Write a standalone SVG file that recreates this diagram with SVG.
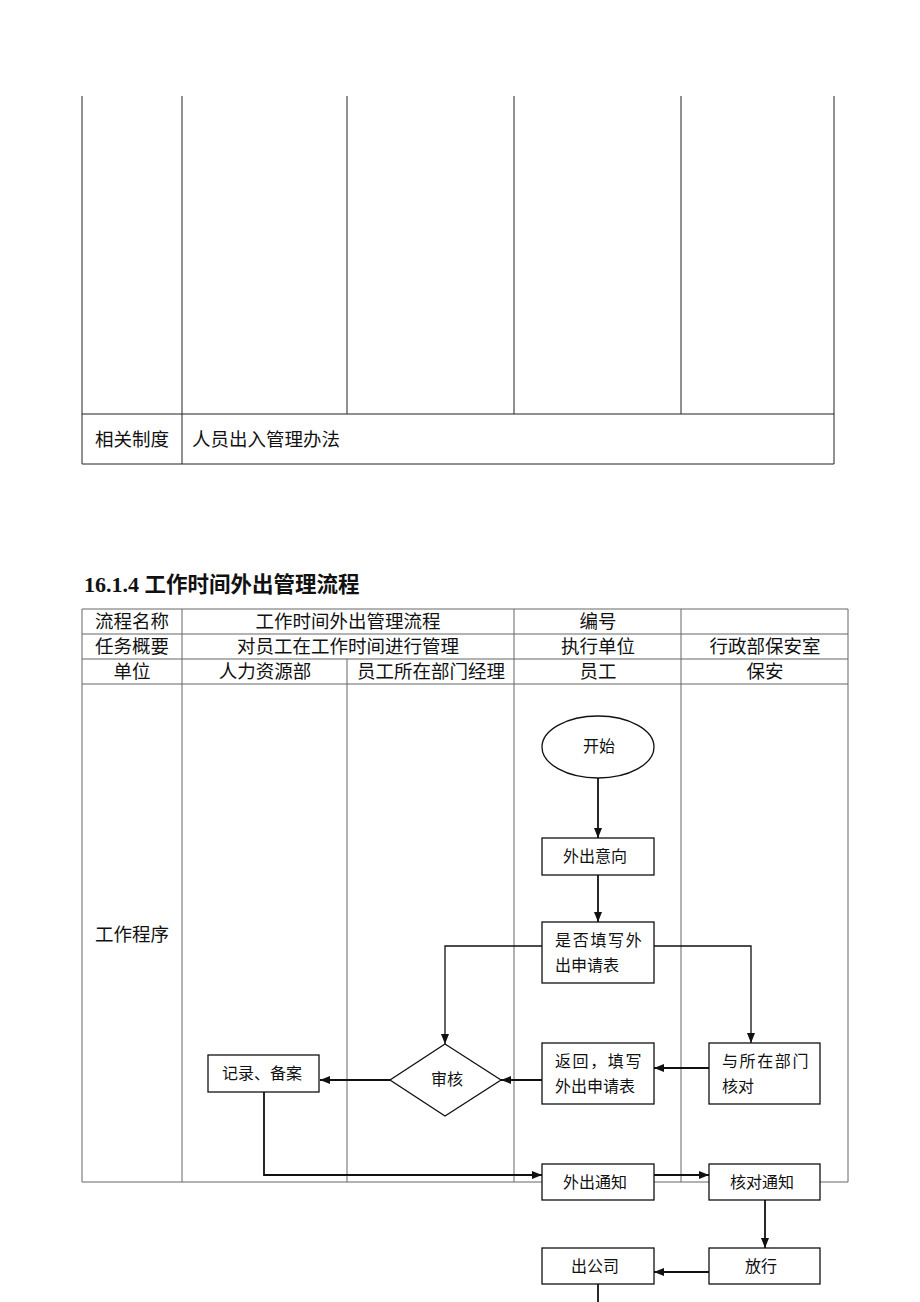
<svg xmlns="http://www.w3.org/2000/svg" width="920" height="1302" viewBox="0 0 920 1302">
<style>
.t{font-family:"Liberation Serif","Noto Sans CJK SC",serif;fill:#111}
.c{font-size:18.5px;text-anchor:middle}
.f{font-size:16px}
.fc{font-size:16px;text-anchor:middle}
.tb1{stroke:#222;stroke-width:1;fill:none}
.tb2{stroke:#666;stroke-width:1;fill:none}
.n{fill:#fff;stroke:#111;stroke-width:1.3}
.e{stroke:#111;stroke-width:1.8;fill:none}
.e1{stroke:#111;stroke-width:1.3;fill:none}
</style>
<defs>
<marker id="ah" viewBox="0 0 10 10" refX="10" refY="5" markerWidth="10" markerHeight="10" markerUnits="userSpaceOnUse" orient="auto">
<path d="M0,1 L10,5 L0,9 Z" fill="#111"/>
</marker>
</defs>
<rect width="920" height="1302" fill="#fff"/>

<g id="table1">
<path class="tb1" d="M82,96 V464 M182,96 V464 M347,96 V414 M514,96 V414 M681,96 V414 M834,96 V464 M82,414 H834 M82,464 H834"/>
<text class="t c" x="132" y="446">相关制度</text>
<text class="t" x="192" y="446" font-size="18.5">人员出入管理办法</text>
</g>

<text class="t" x="84" y="592" font-weight="bold"><tspan font-size="22">16.1.4 </tspan><tspan font-size="21.5">工作时间外出管理流程</tspan></text>

<g id="table2">
<path class="tb2" d="M82,609 H848 M82,634 H848 M82,659 H848 M82,684 H848 M82,1182 H848 M82,609 V1182 M848,609 V1182 M182,609 V1182 M347,659 V1182 M514,609 V1182 M681,609 V1182"/>
<text class="t c" x="132" y="628">流程名称</text>
<text class="t c" x="348" y="628">工作时间外出管理流程</text>
<text class="t c" x="598" y="628">编号</text>
<text class="t c" x="132" y="653">任务概要</text>
<text class="t c" x="348" y="653">对员工在工作时间进行管理</text>
<text class="t c" x="598" y="653">执行单位</text>
<text class="t c" x="765" y="653">行政部保安室</text>
<text class="t c" x="132" y="678">单位</text>
<text class="t c" x="265" y="678">人力资源部</text>
<text class="t c" x="431" y="678">员工所在部门经理</text>
<text class="t c" x="598" y="678">员工</text>
<text class="t c" x="765" y="678">保安</text>
<text class="t c" x="132" y="941">工作程序</text>
</g>

<g id="connectors">
<path class="e" d="M598,778 V838" marker-end="url(#ah)"/>
<path class="e" d="M598,875 V922" marker-end="url(#ah)"/>
<path class="e1" d="M542,946 H445 V1044" marker-end="url(#ah)"/>
<path class="e1" d="M654,946 H751 V1043" marker-end="url(#ah)"/>
<path class="e" d="M709,1068 H654" marker-end="url(#ah)"/>
<path class="e" d="M542,1080 H501" marker-end="url(#ah)"/>
<path class="e" d="M390,1080 H320" marker-end="url(#ah)"/>
<path class="e" d="M264,1092 V1175 H542" marker-end="url(#ah)"/>
<path class="e" d="M654,1175 H709" marker-end="url(#ah)"/>
<path class="e" d="M765,1200 V1248" marker-end="url(#ah)"/>
<path class="e" d="M709,1272 H654" marker-end="url(#ah)"/>
<path class="e" d="M598,1284 V1302"/>
</g>

<g id="n_start">
<ellipse class="n" cx="598" cy="747" rx="56" ry="31"/>
<text class="t fc" x="599" y="752">开始</text>
</g>
<g id="n_intent">
<rect class="n" x="542" y="838" width="112" height="37"/>
<text class="t fc" x="595" y="862">外出意向</text>
</g>
<g id="n_fill">
<rect class="n" x="542" y="922" width="112" height="61"/>
<text class="t f" x="555" y="946" letter-spacing="1.7">是否填写外</text>
<text class="t f" x="555" y="971">出申请表</text>
</g>
<g id="n_check_dept">
<rect class="n" x="709" y="1043" width="111" height="61"/>
<text class="t f" x="722" y="1067" letter-spacing="1.6">与所在部门</text>
<text class="t f" x="722" y="1092">核对</text>
</g>
<g id="n_return">
<rect class="n" x="542" y="1043" width="112" height="61"/>
<text class="t f" x="555" y="1067" letter-spacing="1.6">返回，填写</text>
<text class="t f" x="555" y="1092">外出申请表</text>
</g>
<g id="n_review">
<path class="n" d="M445,1044 L501,1080 L445,1116 L390,1080 Z"/>
<text class="t fc" x="447" y="1085">审核</text>
</g>
<g id="n_record">
<rect class="n" x="208" y="1055" width="111" height="37"/>
<text class="t fc" x="262" y="1079">记录、备案</text>
</g>
<g id="n_notice">
<rect class="n" x="542" y="1164" width="112" height="36"/>
<text class="t fc" x="595" y="1188">外出通知</text>
</g>
<g id="n_verify">
<rect class="n" x="709" y="1164" width="111" height="36"/>
<text class="t fc" x="762" y="1188">核对通知</text>
</g>
<g id="n_release">
<rect class="n" x="709" y="1248" width="111" height="36"/>
<text class="t fc" x="761" y="1272">放行</text>
</g>
<g id="n_leave">
<rect class="n" x="542" y="1248" width="112" height="36"/>
<text class="t fc" x="595" y="1272">出公司</text>
</g>
</svg>
